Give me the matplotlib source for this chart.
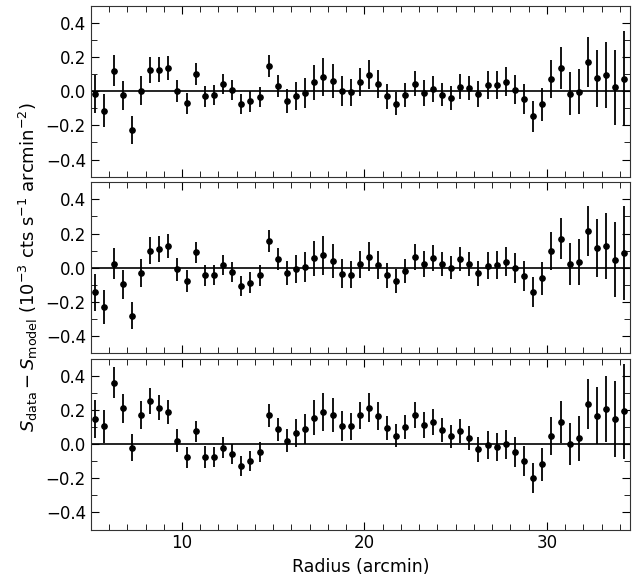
import numpy as np
import matplotlib.pyplot as plt
from matplotlib.ticker import MultipleLocator

# radius bin centres (arcmin), 0.5 arcmin bins
radius = np.arange(5.25, 34.3, 0.5)

# 1-sigma errors, same in every panel
yerr = [0.11, 0.097, 0.092, 0.085, 0.08, 0.083, 0.077, 0.074, 0.07, 0.066,
        0.062, 0.063, 0.063, 0.06, 0.06, 0.059, 0.058, 0.06, 0.06, 0.065,
        0.065, 0.07, 0.082, 0.088, 0.102, 0.112, 0.098, 0.086, 0.078, 0.081,
        0.085, 0.082, 0.072, 0.068, 0.071, 0.074, 0.076, 0.076, 0.069, 0.068,
        0.071, 0.071, 0.074, 0.081, 0.082, 0.085, 0.086, 0.088, 0.09, 0.097,
        0.113, 0.122, 0.124, 0.134, 0.147, 0.167, 0.192, 0.22, 0.277]

resid_top = [-0.016, -0.115, 0.12, -0.023, -0.227, 0.004, 0.125, 0.125, 0.135, 0.0,
             -0.07, 0.10, -0.03, -0.023, 0.043, 0.006, -0.074, -0.06, -0.033, 0.148,
             0.03, -0.058, -0.03, -0.01, 0.053, 0.084, 0.06, 0.002, -0.006, 0.053,
             0.096, 0.043, -0.03, -0.072, -0.023, 0.045, -0.01, 0.012, -0.02, -0.04,
             0.027, 0.02, -0.016, 0.037, 0.037, 0.055, 0.01, -0.045, -0.146, -0.076,
             0.072, 0.137, -0.014, -0.002, 0.17, 0.076, 0.094, 0.023, 0.074]

resid_mid = [-0.145, -0.23, 0.023, -0.096, -0.28, -0.033, 0.10, 0.11, 0.125, -0.01,
             -0.078, 0.09, -0.045, -0.043, 0.016, -0.025, -0.107, -0.088, -0.045, 0.154,
             0.053, -0.03, -0.008, 0.002, 0.055, 0.072, 0.04, -0.035, -0.04, 0.019,
             0.063, 0.018, -0.045, -0.078, -0.018, 0.063, 0.021, 0.055, 0.021, 0.0,
             0.05, 0.021, -0.033, 0.012, 0.014, 0.035, -0.002, -0.047, -0.143, -0.063,
             0.098, 0.17, 0.023, 0.035, 0.213, 0.115, 0.127, 0.047, 0.086]

resid_bot = [0.147, 0.105, 0.36, 0.21, -0.021, 0.172, 0.254, 0.213, 0.188, 0.021,
             -0.076, 0.074, -0.074, -0.076, -0.02, -0.057, -0.13, -0.1, -0.045, 0.168,
             0.086, 0.021, 0.064, 0.088, 0.154, 0.19, 0.17, 0.107, 0.105, 0.168,
             0.213, 0.166, 0.094, 0.05, 0.10, 0.17, 0.113, 0.13, 0.082, 0.045,
             0.078, 0.035, -0.031, -0.004, -0.014, -0.002, -0.047, -0.1, -0.198, -0.117,
             0.047, 0.129, 0.0, 0.033, 0.235, 0.166, 0.204, 0.147, 0.192]

fig, axes = plt.subplots(3, 1, sharex=True, figsize=(6.44, 5.8), dpi=100)
fig.subplots_adjust(left=0.141, right=0.978, top=0.99, bottom=0.087, hspace=0.033)

for ax, resid in zip(axes, [resid_top, resid_mid, resid_bot]):
    ax.axhline(0, color='k', lw=1.2, zorder=1)
    ax.errorbar(radius, resid, yerr=yerr, fmt='o', color='k', ms=3.8,
                elinewidth=1.3, capsize=0, zorder=2)
    ax.set_xlim(5.0, 34.55)
    ax.set_ylim(-0.5, 0.5)
    ax.yaxis.set_major_locator(MultipleLocator(0.2))
    ax.yaxis.set_minor_locator(MultipleLocator(0.1))
    ax.xaxis.set_major_locator(MultipleLocator(10))
    ax.xaxis.set_minor_locator(MultipleLocator(1))
    ax.tick_params(which='both', direction='in', top=True, right=True, labelsize=12)
    ax.tick_params(which='major', length=6)
    ax.tick_params(which='minor', length=4)
    for sp in ax.spines.values():
        sp.set_color('#333333')

axes[1].set_ylabel(r'$S_{\rm data} - S_{\rm model}$ ($10^{-3}$ cts s$^{-1}$ arcmin$^{-2}$)',
                   fontsize=13)
axes[2].set_xlabel('Radius (arcmin)', fontsize=12.5)

fig.savefig('out.png', dpi=100)
